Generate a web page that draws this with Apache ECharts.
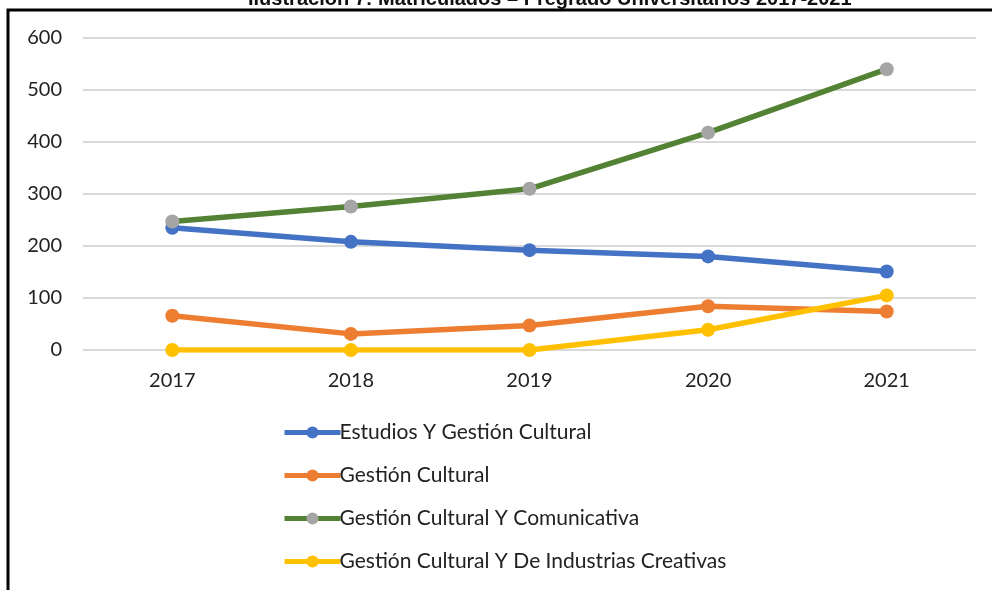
<!DOCTYPE html>
<html>
<head>
<meta charset="utf-8">
<script src="https://cdn.jsdelivr.net/npm/echarts@6/dist/echarts.min.js"></script>
<style>
html,body{margin:0;padding:0;background:#fff;}
#chart{width:992px;height:590px;}
</style>
</head>
<body>
<div id="chart"></div>
<script>
const titleText = 'Ilustración 7: Matriculados – Pregrado Universitarios 2017-2021';
const years = ['2017', '2018', '2019', '2020', '2021'];
const seriesNames = [
  'Estudios Y Gestión Cultural',
  'Gestión Cultural',
  'Gestión Cultural Y Comunicativa',
  'Gestión Cultural Y De Industrias Creativas'
];
const estudiosGestion = [235, 208, 192, 180, 151];
const gestionCultural = [66, 31, 47, 84, 74];
const gestionComunicativa = [247, 276, 310, 418, 540];
const gestionIndustrias = [0, 0, 0, 39, 105];
const yTicks = [0, 100, 200, 300, 400, 500, 600];

const lineColors = ['#4472c4', '#ed7d31', '#548235', '#ffc000'];
const markerColors = ['#4472c4', '#ed7d31', '#a5a5a5', '#ffc000'];
const allData = [estudiosGestion, gestionCultural, gestionComunicativa, gestionIndustrias];
const FONT = 'Lato, "Open Sans", sans-serif';

const chart = echarts.init(document.getElementById('chart'));
chart.setOption({
  animation: false,
  backgroundColor: '#fff',
  grid: { left: 83, right: 16, top: 38, bottom: 240 },
  xAxis: {
    type: 'category',
    data: years,
    boundaryGap: true,
    axisLine: { show: false },
    axisTick: { show: false },
    axisLabel: { color: '#222', fontSize: 20, fontFamily: FONT, margin: 21 }
  },
  yAxis: {
    type: 'value',
    min: yTicks[0],
    max: yTicks[yTicks.length - 1],
    interval: 100,
    axisLine: { show: false },
    axisTick: { show: false },
    axisLabel: { color: '#222', fontSize: 20, fontFamily: FONT, margin: 21 },
    splitLine: { lineStyle: { color: '#d9d9d9', width: 2 } }
  },
  legend: {
    orient: 'vertical',
    left: 282,
    top: 422,
    padding: 0,
    itemGap: 22,
    itemWidth: 56,
    itemHeight: 15,
    lineStyle: { width: 5 },
    textStyle: { color: '#222', fontSize: 21, fontFamily: FONT, padding: [0, 0, 0, -6] },
    data: seriesNames
  },
  series: seriesNames.map((name, i) => ({
    name: name,
    type: 'line',
    data: allData[i],
    symbol: 'circle',
    symbolSize: 14,
    lineStyle: { color: lineColors[i], width: 5.5 },
    itemStyle: { color: markerColors[i] },
    z: 2 + i
  })),
  graphic: [
    {
      type: 'text',
      left: 248,
      top: -11,
      style: { text: titleText, font: 'bold 20px "Liberation Sans", sans-serif', fill: '#111' }
    },
    {
      type: 'polyline',
      shape: { points: [[8, 592], [8, 10], [994, 10]] },
      style: { stroke: '#000', lineWidth: 3, fill: null },
      z: 100
    }
  ]
});
</script>
</body>
</html>
